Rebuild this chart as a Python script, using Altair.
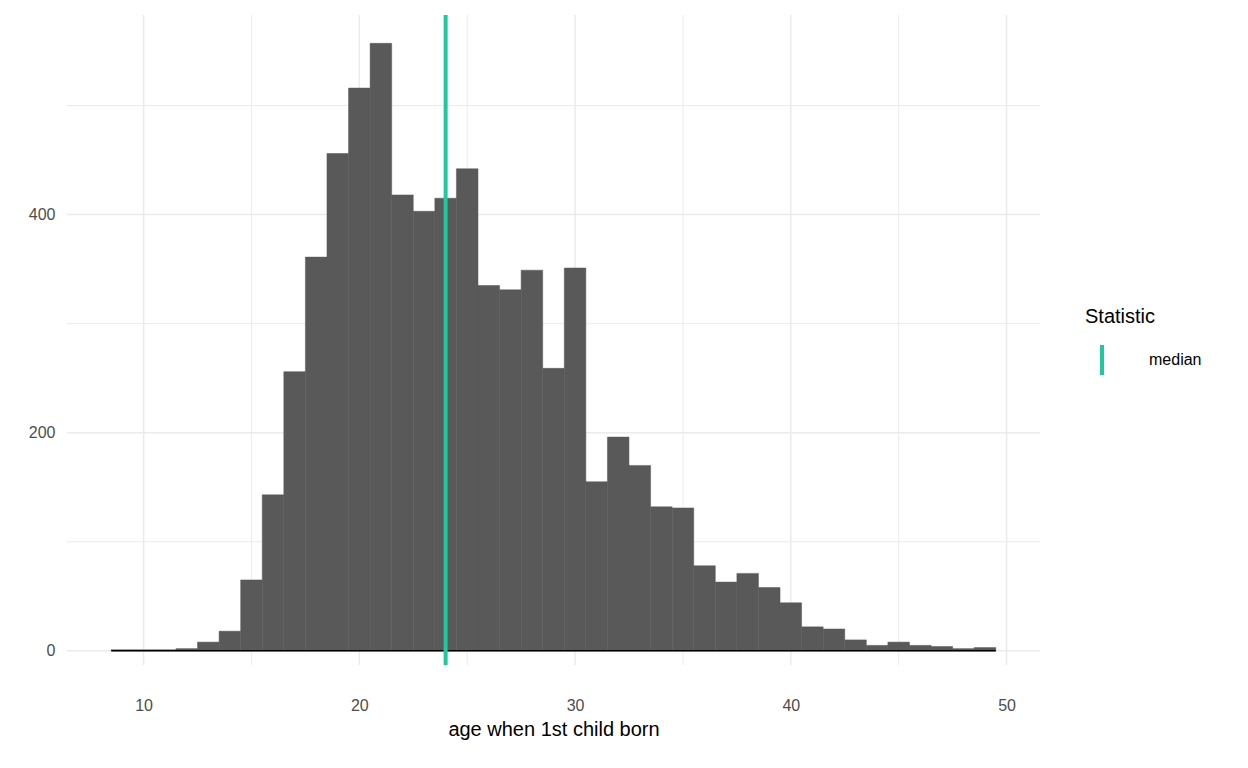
import altair as alt
import pandas as pd

bin_start = [8.5 + i for i in range(41)]
counts = [1, 1, 1, 2, 8, 18, 65, 143, 256, 361, 456, 516, 557, 418, 403, 415, 442,
          335, 331, 349, 259, 351, 155, 196, 170, 132, 131, 78, 63, 71, 58, 44,
          22, 20, 10, 5, 8, 5, 4, 2, 3]
median_age = 24
x_major = [10, 20, 30, 40, 50]
x_minor = [15, 25, 35, 45]
y_major = [0, 200, 400]
y_minor = [100, 300, 500]

bars = pd.DataFrame({"x": bin_start, "x2": [b + 1 for b in bin_start], "n": counts})
xd = [6.45, 51.55]
yd = [-13, 583]
xs = alt.Scale(domain=xd, nice=False, zero=False)
ys = alt.Scale(domain=yd, nice=False, zero=False)
F = "Liberation Sans"

xaxis = alt.Axis(values=x_major, grid=False, domain=False, ticks=False, labelFontSize=16,
                 labelColor="#4d4d4d", labelFont=F, title="age when 1st child born",
                 titleFontSize=20, titleFont=F, titleFontWeight="normal", titleColor="black",
                 labelPadding=32, titlePadding=6)
yaxis = alt.Axis(values=y_major, grid=False, domain=False, ticks=False, labelFontSize=16,
                 labelColor="#4d4d4d", labelFont=F, title=None, labelPadding=12)

def vgrid(vals, w):
    return alt.Chart(pd.DataFrame({"v": vals})).mark_rule(color="#ebebeb", strokeWidth=w).encode(
        x=alt.X("v:Q", scale=xs, axis=xaxis))

def hgrid(vals, w):
    return alt.Chart(pd.DataFrame({"v": vals})).mark_rule(color="#ebebeb", strokeWidth=w).encode(
        y=alt.Y("v:Q", scale=ys, axis=yaxis))

hist = alt.Chart(bars).mark_rect(color="#595959", stroke="#595959", strokeWidth=0.5).encode(
    x=alt.X("x:Q", scale=xs, axis=xaxis), x2="x2:Q",
    y=alt.Y("n:Q", scale=ys, axis=yaxis), y2=alt.datum(0))

base = alt.Chart(pd.DataFrame({"a": [8.5], "b": [49.5], "y": [0]})).mark_rule(
    color="black", strokeWidth=1.5).encode(x=alt.X("a:Q", scale=xs, axis=xaxis), x2="b:Q",
                                           y=alt.Y("y:Q", scale=ys, axis=yaxis))

med = alt.Chart(pd.DataFrame({"v": [median_age], "s": ["median"]})).mark_rule(strokeWidth=4).encode(
    x=alt.X("v:Q", scale=xs, axis=xaxis),
    color=alt.Color("s:N", scale=alt.Scale(range=["#1fc99a"]),
                    legend=alt.Legend(title="Statistic", titleFontSize=20, titleFont=F,
                                      titleFontWeight="normal", titleColor="black",
                                      labelFontSize=16, labelFont=F, labelColor="black",
                                      symbolType="M0,-1L0,1", symbolSize=900, symbolStrokeWidth=4,
                                      orient="none", legendX=1018, legendY=292,
                                      labelOffset=30, titlePadding=16)))

chart = alt.layer(vgrid(x_minor, 1), hgrid(y_minor, 1), vgrid(x_major, 1.5), hgrid(y_major, 1.5),
                  hist, base, med).properties(
    width=973, height=650, autosize="none",
    padding={"left": 59, "top": 7, "right": 200, "bottom": 95}
).configure_view(stroke=None)

chart.save("out.html", embed_options={"renderer": "svg", "actions": False})
